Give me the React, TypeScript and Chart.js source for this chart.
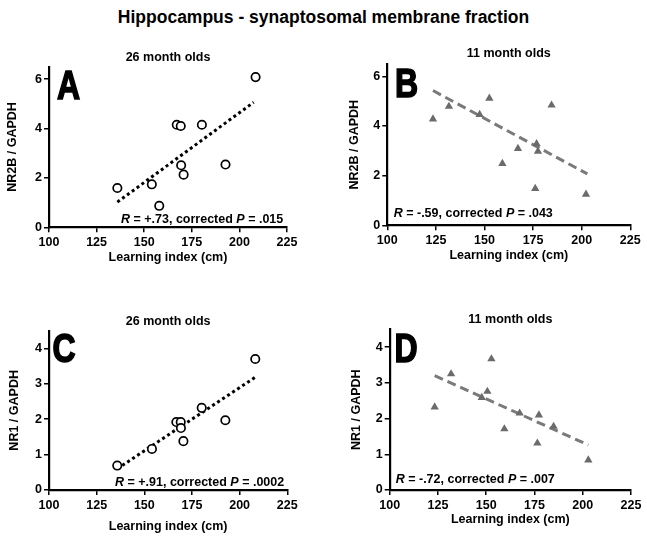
import React, { useEffect, useRef } from "react";
import { Chart, registerables } from "chart.js";

Chart.register(...registerables);

const FONT = '"Liberation Sans", Arial, Helvetica, sans-serif';

const MAIN_TITLE = "Hippocampus - synaptosomal membrane fraction";
const X_TITLE = "Learning index (cm)";
const X_MIN = 100;
const X_MAX = 225;
const X_STEP = 25;

// 26 month olds
const oldNR2B_x = [135.9, 154.0, 157.9, 167.1, 169.2, 169.4, 170.7, 180.3, 192.7, 208.5];
const oldNR2B_y = [1.59, 1.74, 0.87, 4.15, 4.1, 2.51, 2.13, 4.15, 2.54, 6.08];
const oldNR2B_fitX = [135.9, 207.5];
const oldNR2B_fitY = [1.02, 5.06];

const oldNR1_x = [135.8, 154.0, 166.8, 169.1, 169.2, 170.5, 180.1, 192.5, 208.2];
const oldNR1_y = [0.69, 1.16, 1.92, 1.92, 1.75, 1.38, 2.32, 1.97, 3.7];
const oldNR1_fitX = [135.8, 208.6];
const oldNR1_fitY = [0.6, 3.2];

// 11 month olds
const youngNR2B_x = [123.5, 131.7, 147.5, 152.5, 159.2, 167.2, 176.1, 176.8, 177.5, 184.5, 202.2];
const youngNR2B_y = [4.28, 4.79, 4.46, 5.12, 2.49, 3.09, 1.48, 3.28, 2.98, 4.84, 1.25];
const youngNR2B_fitX = [123.5, 202.9];
const youngNR2B_fitY = [5.43, 2.07];

const youngNR1_x = [123.3, 131.8, 147.7, 150.6, 152.7, 159.4, 167.3, 176.5, 177.3, 184.9, 202.9];
const youngNR1_y = [2.32, 3.25, 2.59, 2.76, 3.67, 1.71, 2.15, 1.31, 2.1, 1.78, 0.84];
const youngNR1_fitX = [123.3, 202.9];
const youngNR1_fitY = [3.2, 1.26];

const STAT_R = ["+.73", "-.59", "+.91", "-.72"];
const STAT_P = [".015", ".043", ".0002", ".007"];

type PanelCfg = {
  letter: string;
  subtitle: string;
  yTitle: string;
  xs: number[];
  ys: number[];
  fitX: number[];
  fitY: number[];
  yMax: number;
  yStep: number;
  r: string;
  p: string;
  young: boolean;
  box: { cx: number; cy: number; cw: number; ch: number };
  plot: { L: number; R: number; T: number; B: number };
  yTitleX: number;
  xTitleY: number;
  subY: number;
  letterX: number;
  letterY: number;
  statX: number;
  statY: number;
};

const PANELS: PanelCfg[] = [
  {
    letter: "A", subtitle: "26 month olds", yTitle: "NR2B / GAPDH",
    xs: oldNR2B_x, ys: oldNR2B_y, fitX: oldNR2B_fitX, fitY: oldNR2B_fitY,
    yMax: 6.5, yStep: 2, r: STAT_R[0], p: STAT_P[0], young: false,
    box: { cx: 0, cy: 40, cw: 323, ch: 230 },
    plot: { L: 49, R: 287, T: 66.7, B: 227.3 },
    yTitleX: 13, xTitleY: 258, subY: 58,
    letterX: 57, letterY: 99.3, statX: 121, statY: 222.5,
  },
  {
    letter: "B", subtitle: "11 month olds", yTitle: "NR2B / GAPDH",
    xs: youngNR2B_x, ys: youngNR2B_y, fitX: youngNR2B_fitX, fitY: youngNR2B_fitY,
    yMax: 6.5, yStep: 2, r: STAT_R[1], p: STAT_P[1], young: true,
    box: { cx: 323, cy: 40, cw: 324, ch: 230 },
    plot: { L: 387.3, R: 630.3, T: 64, B: 225.3 },
    yTitleX: 354.7, xTitleY: 256, subY: 54,
    letterX: 395, letterY: 96.7, statX: 393.7, statY: 216.7,
  },
  {
    letter: "C", subtitle: "26 month olds", yTitle: "NR1 / GAPDH",
    xs: oldNR1_x, ys: oldNR1_y, fitX: oldNR1_fitX, fitY: oldNR1_fitY,
    yMax: 4.5, yStep: 1, r: STAT_R[2], p: STAT_P[2], young: false,
    box: { cx: 0, cy: 290, cw: 323, ch: 249 },
    plot: { L: 49, R: 287.3, T: 330.7, B: 490 },
    yTitleX: 15, xTitleY: 527, subY: 321.7,
    letterX: 52.5, letterY: 361.7, statX: 115, statY: 486,
  },
  {
    letter: "D", subtitle: "11 month olds", yTitle: "NR1 / GAPDH",
    xs: youngNR1_x, ys: youngNR1_y, fitX: youngNR1_fitX, fitY: youngNR1_fitY,
    yMax: 4.5, yStep: 1, r: STAT_R[3], p: STAT_P[3], young: true,
    box: { cx: 323, cy: 290, cw: 324, ch: 249 },
    plot: { L: 389.7, R: 631, T: 329.3, B: 490 },
    yTitleX: 356.3, xTitleY: 520, subY: 319.3,
    letterX: 394.5, letterY: 361.7, statX: 395.7, statY: 483.3,
  },
];

const TITLE_LH = 15; // 12.5px * 1.2

function Panel({ cfg }: { cfg: PanelCfg }) {
  const ref = useRef<HTMLCanvasElement>(null);

  useEffect(() => {
    const { box, plot } = cfg;
    const yw = plot.L - box.cx;
    const xh = cfg.xTitleY + TITLE_LH / 2 - plot.B;
    const padding = {
      left: 0,
      right: box.cx + box.cw - plot.R,
      top: plot.T - box.cy,
      bottom: box.cy + box.ch - plot.B - xh,
    };
    const markerColor = cfg.young ? "#6b6b6b" : "#000000";
    const lineColor = cfg.young ? "#7a7a7a" : "#000000";

    const annot = {
      id: "annot" + cfg.letter,
      afterDraw(chart: any) {
        const ctx = chart.ctx as CanvasRenderingContext2D;
        const ca = chart.chartArea;
        ctx.save();
        ctx.fillStyle = "#000";
        ctx.font = `bold 12.5px ${FONT}`;
        ctx.textAlign = "center";
        ctx.textBaseline = "middle";
        ctx.fillText(cfg.subtitle, (ca.left + ca.right) / 2, cfg.subY - box.cy);

        ctx.save();
        ctx.translate(cfg.letterX - box.cx, cfg.letterY - box.cy);
        ctx.scale(0.8, 1);
        ctx.font = `bold 40px ${FONT}`;
        ctx.textAlign = "left";
        ctx.textBaseline = "alphabetic";
        ctx.fillText(cfg.letter, 0, 0);
        ctx.strokeStyle = "#000";
        ctx.lineWidth = 1.6;
        ctx.lineJoin = "miter";
        ctx.strokeText(cfg.letter, 0, 0);
        ctx.restore();

        const segs = [
          { t: "R", i: true },
          { t: " = " + cfg.r + ", corrected ", i: false },
          { t: "P", i: true },
          { t: " = " + cfg.p, i: false },
        ];
        let x = cfg.statX - box.cx;
        const y = cfg.statY - box.cy;
        ctx.textAlign = "left";
        ctx.textBaseline = "alphabetic";
        for (const s of segs) {
          ctx.font = `${s.i ? "italic " : ""}bold 12.5px ${FONT}`;
          ctx.fillText(s.t, x, y);
          x += ctx.measureText(s.t).width;
        }
        ctx.restore();
      },
    };

    const chart = new Chart(ref.current as HTMLCanvasElement, {
      type: "scatter",
      data: {
        datasets: [
          {
            type: "scatter",
            data: cfg.xs.map((x, i) => ({ x, y: cfg.ys[i] })),
            pointStyle: cfg.young ? "triangle" : "circle",
            pointRadius: cfg.young ? 4.8 : 4.2,
            pointBorderWidth: cfg.young ? 0 : 1.7,
            pointBorderColor: markerColor,
            pointBackgroundColor: cfg.young ? markerColor : "#ffffff",
          } as any,
          {
            type: "line",
            data: cfg.fitX.map((x, i) => ({ x, y: cfg.fitY[i] })),
            borderColor: lineColor,
            borderWidth: 3,
            borderDash: cfg.young ? [9, 5] : [3, 3],
            borderCapStyle: "butt",
            pointRadius: 0,
            fill: false,
            tension: 0,
          } as any,
        ],
      },
      options: {
        animation: false,
        responsive: true,
        maintainAspectRatio: false,
        devicePixelRatio: 1,
        layout: { padding },
        plugins: {
          legend: { display: false },
          tooltip: { enabled: false },
          title: { display: false },
        },
        scales: {
          x: {
            type: "linear",
            min: X_MIN,
            max: X_MAX,
            afterFit: (s: any) => {
              s.height = xh;
            },
            ticks: {
              stepSize: X_STEP,
              color: "#000",
              padding: 3,
              maxRotation: 0,
              autoSkip: false,
              font: { family: FONT, size: 12.5, weight: "bold" },
            },
            grid: {
              display: true,
              drawOnChartArea: false,
              drawTicks: true,
              tickLength: 5,
              color: "#000",
              lineWidth: 1.5,
            },
            border: { display: true, color: "#000", width: 2.2 },
            title: {
              display: true,
              text: X_TITLE,
              color: "#000",
              padding: { top: 0, bottom: 0 },
              font: { family: FONT, size: 12.5, weight: "bold", lineHeight: 1.2 },
            },
          },
          y: {
            type: "linear",
            min: 0,
            max: cfg.yMax,
            afterFit: (s: any) => {
              s.width = yw;
            },
            ticks: {
              stepSize: cfg.yStep,
              includeBounds: false,
              color: "#000",
              padding: 2,
              font: { family: FONT, size: 12.5, weight: "bold" },
            },
            grid: {
              display: true,
              drawOnChartArea: false,
              drawTicks: true,
              tickLength: 5,
              color: "#000",
              lineWidth: 1.5,
            },
            border: { display: true, color: "#000", width: 2.2 },
            title: {
              display: true,
              text: cfg.yTitle,
              color: "#000",
              padding: { top: cfg.yTitleX - box.cx - TITLE_LH / 2, bottom: 0 },
              font: { family: FONT, size: 12.5, weight: "bold", lineHeight: 1.2 },
            },
          },
        },
      } as any,
      plugins: [annot],
    });
    return () => chart.destroy();
  }, [cfg]);

  const { box } = cfg;
  return (
    <div
      style={{
        position: "absolute",
        left: box.cx,
        top: box.cy,
        width: box.cw,
        height: box.ch,
      }}
    >
      <canvas ref={ref} />
    </div>
  );
}

export default function App() {
  return (
    <div
      style={{
        position: "fixed",
        left: 0,
        top: 0,
        width: 647,
        height: 539,
        background: "#ffffff",
        overflow: "hidden",
      }}
    >
      <div
        style={{
          position: "absolute",
          left: 0,
          top: 7,
          width: 647,
          textAlign: "center",
          fontFamily: FONT,
          fontWeight: "bold",
          fontSize: 17.5,
          lineHeight: "20px",
          color: "#000",
        }}
      >
        {MAIN_TITLE}
      </div>
      {PANELS.map((p) => (
        <Panel key={p.letter} cfg={p} />
      ))}
    </div>
  );
}
